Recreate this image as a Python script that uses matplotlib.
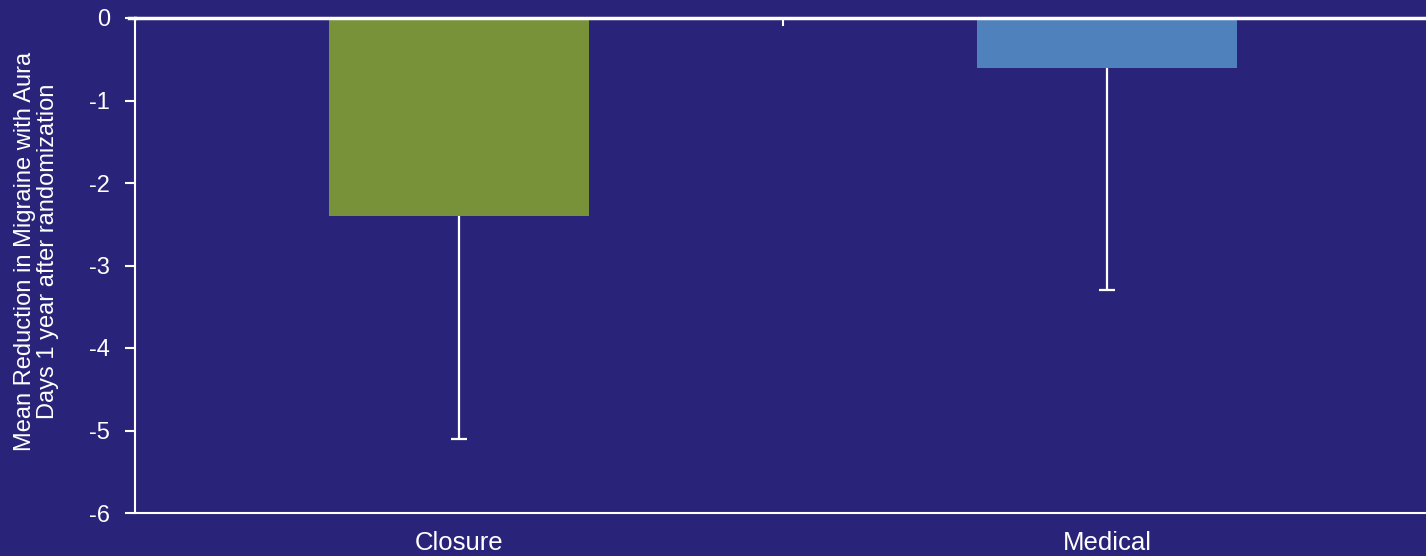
import numpy as np
import matplotlib.pyplot as plt

groups = ["Closure", "Medical"]
mean_change = [-2.4, -0.6]
err_low = [2.7, 2.7]
yticks = [0, -1, -2, -3, -4, -5, -6]
bar_colors = ["#78923A", "#4F81BD"]
bg = "#29247A"

plt.rcParams["font.family"] = ["Liberation Sans", "DejaVu Sans"]

fig = plt.figure(figsize=(14.26, 5.56), dpi=100, facecolor=bg)
ax = fig.add_axes([135 / 1426, 1 - 513 / 556, 1296 / 1426, 495 / 556])
ax.set_facecolor(bg)

x = np.arange(len(groups))
ax.bar(x, mean_change, width=0.4, color=bar_colors, zorder=2)
eb = ax.errorbar(x, mean_change, yerr=[err_low, [0, 0]], fmt="none",
                 ecolor="white", elinewidth=1.6, capsize=6, capthick=1.6, zorder=3)
# keep only the lower caps
for cap in eb[1]:
    if np.allclose(cap.get_ydata(), mean_change):
        cap.set_visible(False)

ax.set_xlim(-0.5, 1.5)
ax.set_ylim(-6, 0)
ax.set_yticks(yticks)
ax.set_yticklabels([str(v) for v in yticks])
ax.set_xticks([])

for s in ["top", "right"]:
    ax.spines[s].set_visible(False)
ax.spines["left"].set_color("white")
ax.spines["left"].set_linewidth(1.5)
ax.spines["bottom"].set_color("white")
ax.spines["bottom"].set_linewidth(1.5)

# zero line with category divider tick
ax.axhline(0, color="white", lw=2.5, zorder=4, clip_on=False)
ax.plot([0.5, 0.5], [0, -0.09], color="white", lw=1.5, zorder=4)
ax.plot([-0.51, -0.5], [0, 0], color="white", lw=2.5, clip_on=False)

ax.tick_params(axis="y", colors="white", labelcolor="white", labelsize=17,
               length=7, width=1.5, direction="out", pad=11)

for xi, g in zip(x, groups):
    ax.text(xi, -6.36, g, ha="center", va="center", color="white", fontsize=18.5)

ax.set_ylabel("Mean Reduction in Migraine with Aura\nDays 1 year after randomization",
              color="white", fontsize=17, linespacing=1.05, va="center")
ax.yaxis.set_label_coords(-0.076, 0.528)

fig.savefig("out.png", dpi=100, facecolor=bg)
